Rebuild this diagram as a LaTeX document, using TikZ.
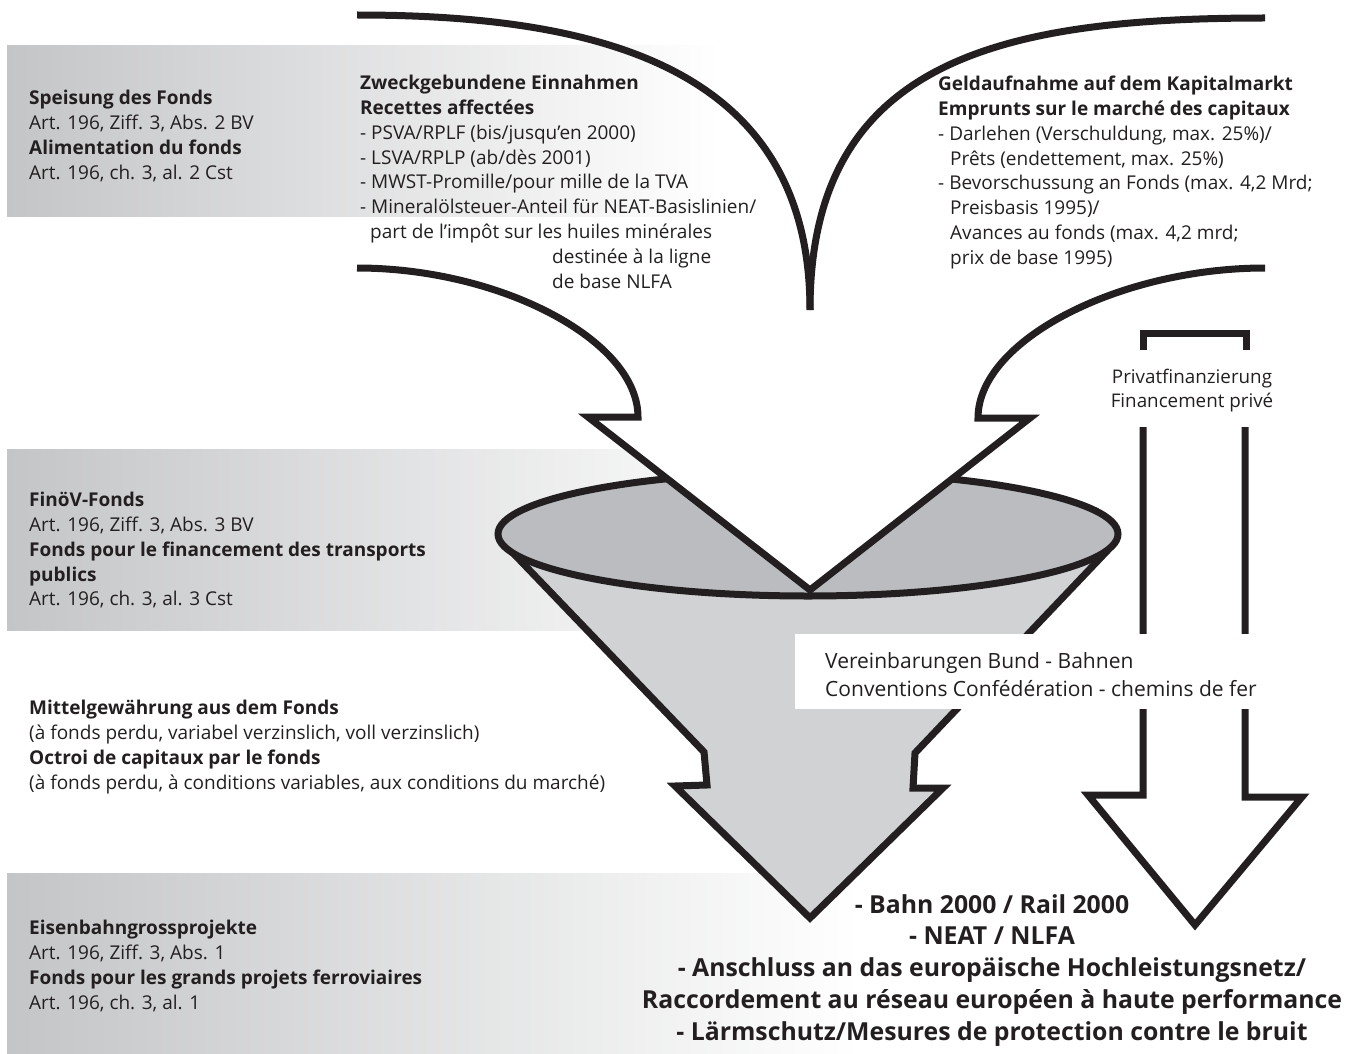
\documentclass[tikz,border=0pt]{standalone}
\usepackage{fontspec}
\setmainfont{Open Sans}
\usetikzlibrary{positioning}
\definecolor{inkline}{HTML}{231F20}
\definecolor{bandgray}{HTML}{C4C5C7}
\definecolor{rimgray}{HTML}{BBBCC0}
\definecolor{conegray}{HTML}{D1D2D4}
\tikzset{
  outline/.style={draw=inkline, line width=7pt, line join=miter},
  band/.style={left color=bandgray, right color=white},
  note/.style={anchor=north west, inner sep=0pt, align=left, text=inkline,
    font=\fontsize{19}{24.8}\selectfont},
  goal/.style={anchor=north, inner sep=0pt, align=center, text=inkline,
    font=\fontsize{24.8}{31.8}\selectfont\bfseries}
}
\begin{document}
\begin{tikzpicture}[x=1pt, y=-1pt]
  \useasboundingbox (0,0) rectangle (1357,1054);
  % shaded bands on the left
  \shade[band] (7,46) rectangle (720,216);
  \shade[band] (7,449) rectangle (790,630);
  \shade[band] (7,873) rectangle (860,1054);

  % funnel
  \fill[conegray] (513,553) -- (704,752) -- (707,785) -- (675,786) -- (810,918)
    -- (943,788) -- (913,788) -- (915,753) -- (1108,550) -- cycle;
  \draw[outline] (513,553) -- (704,752) -- (707,785) -- (675,786) -- (810,918)
    -- (943,788) -- (913,788) -- (915,753) -- (1108,550);
  \filldraw[outline, fill=rimgray] (808,534) ellipse [x radius=310, y radius=62];

  % incoming arrow
  \fill[white] (638,417) -- (588,417) -- (810,590) -- (1030,418) -- (978,418) -- cycle;
  \draw[outline] (357,268) .. controls (500,268) and (638,340) .. (638,417)
    -- (588,417) -- (810,590) -- (1030,418) -- (978,418)
    .. controls (978,340) and (1120,268) .. (1265,268);
  \draw[outline] (357,15) .. controls (605,15) and (810,70) .. (810,310);
  \draw[outline] (810,310) .. controls (810,60) and (1000,18) .. (1265,18);

  % private financing arrow
  \draw[outline] (1143,350) -- (1143,333) -- (1246,333) -- (1246,350);
  \draw[outline] (1143,427) -- (1143,795) -- (1088,795) -- (1195,925)
    -- (1302,797) -- (1245,797) -- (1245,427);
  \fill[white] (795,634) rectangle (1290,709);

  % texts
  \node[note] (speisung) at (29,90) {\textbf{Speisung des Fonds}\\
    Art. 196, Ziff. 3, Abs. 2 BV\\
    \textbf{Alimentation du fonds}\\
    Art. 196, ch. 3, al. 2 Cst};
  \node[note] (finoev) at (29,492) {\textbf{FinöV-Fonds}\\
    Art. 196, Ziff. 3, Abs. 3 BV\\
    \textbf{Fonds pour le financement des transports}\\
    \textbf{publics}\\
    Art. 196, ch. 3, al. 3 Cst};
  \node[note] (mittel) at (29,700) {\textbf{Mittelgewährung aus dem Fonds}\\
    (à fonds perdu, variabel verzinslich, voll verzinslich)\\
    \textbf{Octroi de capitaux par le fonds}\\
    (à fonds perdu, à conditions variables, aux conditions du marché)};
  \node[note] (eisenbahn) at (29,920) {\textbf{Eisenbahngrossprojekte}\\
    Art. 196, Ziff. 3, Abs. 1\\
    \textbf{Fonds pour les grands projets ferroviaires}\\
    Art. 196, ch. 3, al. 1};
  \node[note] (zweck) at (360,75) {\textbf{Zweckgebundene Einnahmen}\\
    \textbf{Recettes affectées}\\
    - PSVA/RPLF (bis/jusqu'en 2000)\\
    - LSVA/RPLP (ab/dès 2001)\\
    - MWST-Promille/pour mille de la TVA\\
    - Mineralölsteuer-Anteil für NEAT-Basislinien/\\
    \hspace*{10pt}part de l'impôt sur les huiles minérales\\
    \hspace*{192pt}destinée à la ligne\\
    \hspace*{192pt}de base NLFA};
  \node[note] (geld) at (938,76) {\textbf{Geldaufnahme auf dem Kapitalmarkt}\\
    \textbf{Emprunts sur le marché des capitaux}\\
    - Darlehen (Verschuldung, max. 25\%)/\\
    \hspace*{12pt}Prêts (endettement, max. 25\%)\\
    - Bevorschussung an Fonds (max. 4,2 Mrd;\\
    \hspace*{12pt}Preisbasis 1995)/\\
    \hspace*{12pt}Avances au fonds (max. 4,2 mrd;\\
    \hspace*{12pt}prix de base 1995)};
  \node[note, anchor=north, align=center, font=\fontsize{18.8}{24}\selectfont]
    (privat) at (1192,369) {Privatfinanzierung\\Financement privé};
  \node[note, font=\fontsize{21}{28}\selectfont] (vereinb) at (825,652)
    {Vereinbarungen Bund - Bahnen\\Conventions Confédération - chemins de fer};
  \node[goal] (ziele) at (992,894) {- Bahn 2000 / Rail 2000\\
    - NEAT / NLFA\\
    - Anschluss an das europäische Hochleistungsnetz/\\
    Raccordement au réseau européen à haute performance\\
    - Lärmschutz/Mesures de protection contre le bruit};
\end{tikzpicture}
\end{document}
